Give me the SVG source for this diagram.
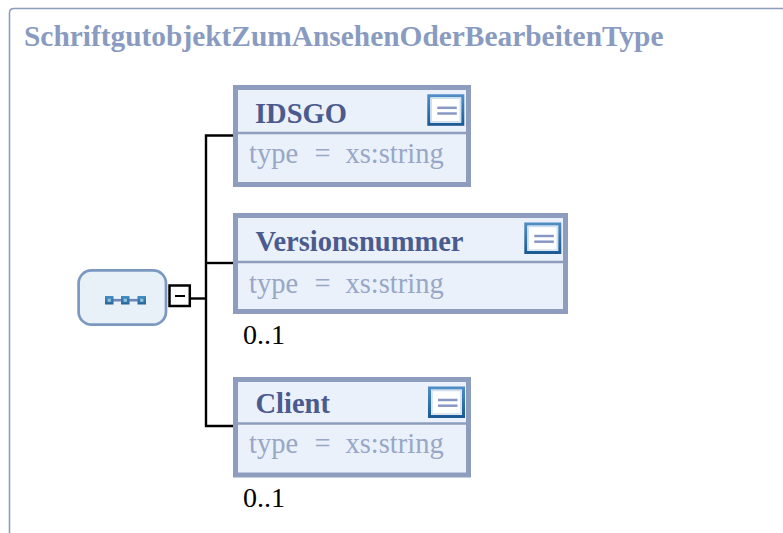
<svg xmlns="http://www.w3.org/2000/svg" width="783" height="533" viewBox="0 0 783 533">
<style>
.frame{fill:none;stroke:#8e9dbd;stroke-width:1.6}
.title{font-family:"Liberation Serif",serif;font-weight:bold;font-size:29.4px;fill:#8a9bc1}
.box{fill:#eaf1fb;stroke:#8e9dbd;stroke-width:5}
.div{stroke:#8e9dbd;stroke-width:2.5}
.name{font-family:"Liberation Serif",serif;font-weight:bold;font-size:28.5px;fill:#4b5b8e}
.type{font-family:"Liberation Serif",serif;font-size:28.5px;fill:#98a7c6}
.occ{font-family:"Liberation Serif",serif;font-size:28px;fill:#000}
.conn{fill:none;stroke:#000;stroke-width:2.4}
</style>
<defs>
<linearGradient id="ig" x1="0" y1="0" x2="0" y2="1">
<stop offset="0" stop-color="#4d8cc4"/>
<stop offset="1" stop-color="#1d5b94"/>
</linearGradient>
<linearGradient id="sg" x1="0" y1="0" x2="0" y2="1">
<stop offset="0" stop-color="#4390c4"/>
<stop offset="1" stop-color="#2a6294"/>
</linearGradient>
<g id="docicon">
<rect x="1.5" y="1.5" width="34" height="28.5" fill="#ffffff" stroke="url(#ig)" stroke-width="3"/>
<rect x="4" y="4" width="29" height="23.5" fill="none" stroke="#cfe0f0" stroke-width="1.5"/>
<line x1="10" y1="13.5" x2="29.5" y2="13.5" stroke="#8898c4" stroke-width="2.5"/>
<line x1="10" y1="19.2" x2="29.5" y2="19.2" stroke="#8898c4" stroke-width="2.5"/>
</g>
<g id="sq">
<rect x="0" y="0" width="8.5" height="8.5" fill="url(#sg)"/>
<rect x="2.6" y="2.6" width="3.3" height="3.3" fill="#8ec0dc"/>
</g>
</defs>

<path class="frame" d="M9.5,533 V13 Q9.5,8.5 14,8.5 H783"/>
<text class="title" x="24" y="45.5">SchriftgutobjektZumAnsehenOderBearbeitenType</text>

<g id="connectors">
<line class="conn" x1="191" y1="298.5" x2="206" y2="298.5"/>
<polyline class="conn" points="233,135.5 206,135.5 206,426 233,426"/>
<line class="conn" x1="206" y1="263" x2="233" y2="263"/>
</g>

<g id="sequence">
<rect x="78.6" y="270.3" width="87.4" height="54.4" rx="13" fill="#e8f0f8" stroke="#7a98c0" stroke-width="2.7"/>
<line x1="112" y1="300.2" x2="139" y2="300.2" stroke="#6f86bc" stroke-width="2.6"/>
<use href="#sq" x="105" y="296"/>
<use href="#sq" x="121" y="296"/>
<use href="#sq" x="137.5" y="296"/>
<rect x="169.5" y="285.5" width="20.3" height="20.5" fill="#ffffff" stroke="#000" stroke-width="2.5"/>
<line x1="175" y1="296" x2="185" y2="296" stroke="#000" stroke-width="2"/>
</g>

<g id="IDSGO">
<rect class="box" x="235.5" y="87.5" width="233" height="97"/>
<line class="div" x1="238" y1="133" x2="466" y2="133"/>
<text class="name" x="255" y="123">IDSGO</text>
<use href="#docicon" x="427.3" y="94.3"/>
<text class="type" y="163"><tspan x="249">type</tspan><tspan x="314.5">=</tspan><tspan x="345.5">xs:string</tspan></text>
</g>

<g id="Versionsnummer">
<rect class="box" x="235.5" y="215.5" width="330" height="96"/>
<line class="div" x1="238" y1="262" x2="563" y2="262"/>
<text class="name" x="255.5" y="251">Versionsnummer</text>
<use href="#docicon" x="524.3" y="222.5"/>
<text class="type" y="293"><tspan x="249">type</tspan><tspan x="314.5">=</tspan><tspan x="345.5">xs:string</tspan></text>
<text class="occ" x="243" y="344">0..1</text>
</g>

<g id="Client">
<rect class="box" x="235.5" y="379.5" width="233" height="95.5"/>
<line class="div" x1="238" y1="423.5" x2="466" y2="423.5"/>
<text class="name" x="255.5" y="413">Client</text>
<use href="#docicon" x="428" y="386.5"/>
<text class="type" y="453"><tspan x="249">type</tspan><tspan x="314.5">=</tspan><tspan x="345.5">xs:string</tspan></text>
<text class="occ" x="243" y="507">0..1</text>
</g>
</svg>
